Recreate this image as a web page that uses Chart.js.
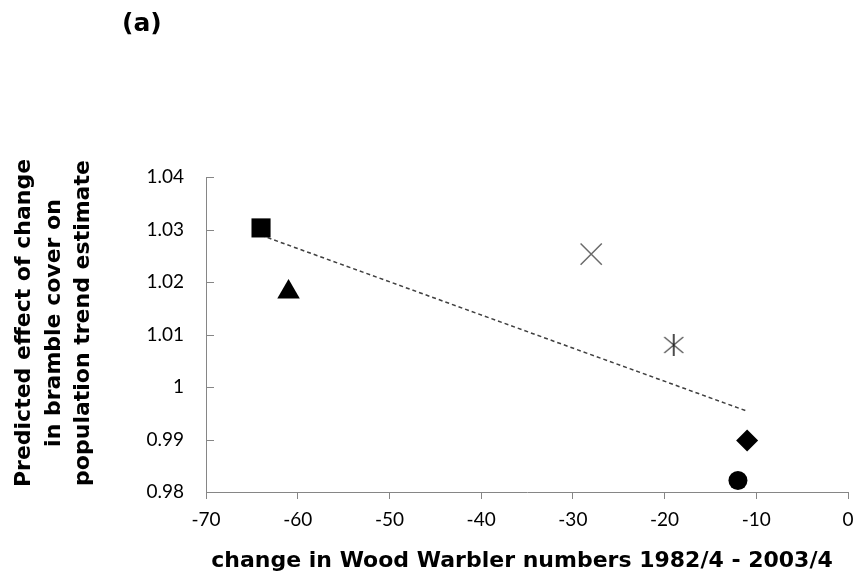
<!DOCTYPE html>
<html><head><meta charset="utf-8">
<script src="https://cdn.jsdelivr.net/npm/chart.js@4"></script>
<style>html,body{margin:0;padding:0;background:#fff}#wrap{width:856px;height:580px;position:relative}</style>
</head><body><div id="wrap"><canvas id="c"></canvas></div>
<script>
// ---- data ----
const pointX = [-64, -61, -28, -19, -11, -12];
const pointY = [1.0303, 1.0181, 1.0253, 1.008, 0.9898, 0.9822];
const trendX = [-64, -11];
const trendY = [1.0289, 0.9954];
const yTickLabels = ['0.98', '0.99', '1', '1.01', '1.02', '1.03', '1.04'];
const panelLabel = '(a)';
const yTitle = ['Predicted effect of change', 'in bramble cover on', 'population trend estimate'];
const xTitle = 'change in Wood Warbler numbers 1982/4 - 2003/4';

// ---- marker styles ----
function asterisk() {
  const c = document.createElement('canvas');
  c.width = 24; c.height = 26;
  const g = c.getContext('2d');
  g.lineWidth = 1.4;
  g.strokeStyle = '#5a5a5a';
  g.beginPath();
  g.moveTo(2.5, 5); g.lineTo(21.5, 21);
  g.moveTo(21.5, 5); g.lineTo(2.5, 21);
  g.stroke();
  g.strokeStyle = '#111';
  g.lineWidth = 1.5;
  g.beginPath();
  g.moveTo(12, 2); g.lineTo(12, 24);
  g.stroke();
  return c;
}
const markers = [
  {style: 'rect', r: 13.5, fill: '#000', stroke: '#000', bw: 0},
  {style: 'triangle', r: 13, fill: '#000', stroke: '#000', bw: 0},
  {style: 'crossRot', r: 15, fill: 'rgba(0,0,0,0)', stroke: '#6a6a6a', bw: 1.5},
  {style: asterisk(), r: 12, fill: 'rgba(0,0,0,0)', stroke: '#6a6a6a', bw: 1},
  {style: 'rectRot', r: 11, fill: '#000', stroke: '#000', bw: 0},
  {style: 'circle', r: 9.5, fill: '#000', stroke: '#000', bw: 0}
];

const datasets = pointX.map((x, i) => ({
  type: 'scatter',
  data: [{x: x, y: pointY[i]}],
  pointStyle: markers[i].style,
  pointRadius: markers[i].r,
  pointHoverRadius: markers[i].r,
  backgroundColor: markers[i].fill,
  borderColor: markers[i].stroke,
  borderWidth: markers[i].bw,
  clip: false,
  order: 1
}));
datasets.push({
  type: 'line',
  data: trendX.map((x, i) => ({x: x, y: trendY[i]})),
  borderColor: '#404040',
  borderWidth: 1.5,
  borderDash: [4, 3],
  pointRadius: 0,
  fill: false,
  tension: 0,
  order: 10
});

const AXIS = '#868686';
const extras = {
  id: 'extras',
  afterDraw(chart) {
    const ctx = chart.ctx;
    const ys = chart.scales.y;
    ctx.save();
    ctx.strokeStyle = AXIS;
    ctx.lineWidth = 1;
    ys.ticks.forEach(t => {
      const py = Math.round(ys.getPixelForValue(t.value)) + 0.5;
      ctx.beginPath();
      ctx.moveTo(ys.right, py);
      ctx.lineTo(ys.right + 8, py);
      ctx.stroke();
    });
    ctx.fillStyle = '#000';
    ctx.font = 'bold 25px "DejaVu Sans"';
    ctx.textBaseline = 'alphabetic';
    ctx.textAlign = 'left';
    ctx.fillText(panelLabel, 122, 31);
    // axis titles
    ctx.font = 'bold 22px "DejaVu Sans"';
    ctx.textAlign = 'center';
    ctx.textBaseline = 'middle';
    ctx.fillText(xTitle, 522, 561);
    const lineX = [24.5, 54, 83.5];
    yTitle.forEach((line, i) => {
      ctx.save();
      ctx.translate(lineX[i], 323);
      ctx.rotate(-Math.PI / 2);
      ctx.fillText(line, 0, 0);
      ctx.restore();
    });
    ctx.restore();
  }
};

new Chart(document.getElementById('c'), {
  data: {datasets: datasets},
  options: {
    responsive: true,
    maintainAspectRatio: false,
    animation: false,
    events: [],
    layout: {autoPadding: false, padding: {top: 177, right: 8, left: 0, bottom: 0}},
    plugins: {legend: {display: false}, tooltip: {enabled: false}},
    scales: {
      x: {
        type: 'linear',
        min: -70, max: 0,
        afterFit(s) { s.height = 88; s.paddingRight = 0; s.paddingLeft = 0; },
        ticks: {stepSize: 10, color: '#000', font: {family: 'Lato', size: 19}, padding: 9},
        grid: {drawOnChartArea: false, color: AXIS, tickLength: 7},
        border: {color: AXIS, width: 1},
        title: {display: false}
      },
      y: {
        type: 'linear',
        min: 0.98, max: 1.04,
        afterFit(s) { s.width = 206; s.paddingTop = 0; s.paddingBottom = 0; },
        ticks: {stepSize: 0.01, color: '#000', font: {family: 'Lato', size: 19}, padding: 22,
                callback: (v, i) => yTickLabels[i]},
        grid: {drawOnChartArea: false, drawTicks: false, color: AXIS},
        border: {color: AXIS, width: 1},
        title: {display: false}
      }
    }
  },
  plugins: [extras]
});
</script>
</body></html>
